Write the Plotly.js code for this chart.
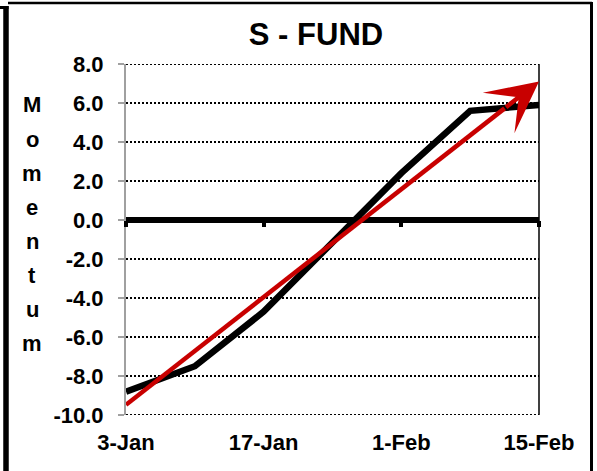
<!DOCTYPE html>
<html>
<head>
<meta charset="utf-8">
<script src="https://cdn.plot.ly/plotly-3.0.1.min.js"></script>
<style>
  html, body { margin: 0; padding: 0; background: #ffffff; }
  #chart { width: 597px; height: 471px; }
</style>
</head>
<body>
<div id="chart"></div>
<script>
// ---- data ----
const weekIndex = [0, 1, 2, 3, 4, 5, 6];
const momentum = [-8.8, -7.5, -4.7, -1.2, 2.4, 5.6, 5.9];
const tickPositions = [0, 2, 4, 6];
const tickLabels = ['3-Jan', '17-Jan', '1-Feb', '15-Feb'];
const yTicks = [-10, -8, -6, -4, -2, 0, 2, 4, 6, 8];
const titleLetters = ['M', 'o', 'm', 'e', 'n', 't', 'u', 'm'];

// ---- linear trend (least squares) of the momentum series ----
const n = weekIndex.length;
const mx = weekIndex.reduce((a, b) => a + b, 0) / n;
const my = momentum.reduce((a, b) => a + b, 0) / n;
let sxy = 0, sxx = 0;
for (let i = 0; i < n; i++) {
  sxy += (weekIndex[i] - mx) * (momentum[i] - my);
  sxx += (weekIndex[i] - mx) * (weekIndex[i] - mx);
}
const slope = sxy / sxx;
const intercept = my - slope * mx;
const trend = x => intercept + slope * x;
const xStart = weekIndex[0];
const xEnd = weekIndex[n - 1];
const xHeadBase = xEnd - 0.5;
const yMin = yTicks[0], yMax = yTicks[yTicks.length - 1];

// ---- geometry helpers (pixel -> paper) ----
const W = 597, H = 471;
const M = { l: 126, r: 58, t: 64, b: 56 };
const PW = W - M.l - M.r, PH = H - M.t - M.b;
const px = x => (x - M.l) / PW;
const py = y => (H - M.b - y) / PH;

const FONT = 'Liberation Sans, Arial, sans-serif';
const RED = '#c80000';

const traces = [
  {
    x: weekIndex, y: momentum, type: 'scatter', mode: 'lines',
    line: { color: '#000000', width: 6.5 }, hoverinfo: 'skip', showlegend: false
  },
  {
    x: [xStart, xHeadBase], y: [trend(xStart), trend(xHeadBase)],
    type: 'scatter', mode: 'lines',
    line: { color: RED, width: 4.5 }, hoverinfo: 'skip', showlegend: false
  },
  {
    // invisible trace to activate the tick axis at zero
    x: [xStart, xEnd], y: [0, 0], xaxis: 'x2', type: 'scatter', mode: 'lines',
    line: { width: 0 }, hoverinfo: 'skip', showlegend: false
  }
];

const annotations = [
  {
    x: xEnd, y: trend(xEnd), xref: 'x', yref: 'y',
    ax: xHeadBase, ay: trend(xHeadBase), axref: 'x', ayref: 'y',
    text: '', showarrow: true, arrowhead: 3, arrowsize: 1.9,
    arrowwidth: 4.5, arrowcolor: RED, standoff: 0
  }
];
titleLetters.forEach((ch, i) => {
  annotations.push({
    text: ch, xref: 'paper', yref: 'paper',
    x: px(32), y: py(105 + 34 * i), xanchor: 'center', yanchor: 'middle',
    showarrow: false,
    font: { family: FONT, size: 22, color: '#000000', weight: 'bold' }
  });
});

const shapes = [
  // dotted gridlines at the range edges (Plotly omits them)
  { type: 'line', xref: 'paper', yref: 'y', x0: 0, x1: 1, y0: yMax, y1: yMax, layer: 'below',
    line: { color: '#000000', width: 2, dash: '2px,2px' } },
  { type: 'line', xref: 'paper', yref: 'y', x0: 0, x1: 1, y0: yMin, y1: yMin, layer: 'below',
    line: { color: '#000000', width: 2, dash: '2px,2px' } },
  // right border of the plot area
  { type: 'line', xref: 'paper', yref: 'paper', x0: 1, x1: 1, y0: 0, y1: 1,
    line: { color: '#000000', width: 1.5 } },
  // outer frame
  { type: 'line', xref: 'paper', yref: 'paper', x0: px(8), x1: px(592), y0: py(3), y1: py(3),
    line: { color: '#000000', width: 2.5 } },
  { type: 'line', xref: 'paper', yref: 'paper', x0: px(591.5), x1: px(591.5), y0: py(2), y1: py(475),
    line: { color: '#000000', width: 3 } },
  { type: 'line', xref: 'paper', yref: 'paper', x0: px(6), x1: px(6), y0: py(6), y1: py(475),
    line: { color: '#000000', width: 5.5 } },
  { type: 'line', xref: 'paper', yref: 'paper', x0: px(-1), x1: px(8.5), y0: py(7.5), y1: py(7.5),
    line: { color: '#000000', width: 3 } }
];

const layout = {
  width: W, height: H,
  margin: M,
  paper_bgcolor: '#ffffff', plot_bgcolor: '#ffffff',
  showlegend: false,
  title: {
    text: 'S - FUND', xref: 'container', yref: 'container',
    x: 316 / W, y: 1 - 34 / H, xanchor: 'center', yanchor: 'middle',
    font: { family: FONT, size: 31, color: '#000000', weight: 'bold' }
  },
  xaxis: {
    range: [xStart, xEnd], tickmode: 'array', tickvals: tickPositions, ticktext: tickLabels,
    showgrid: false, zeroline: false, showline: false, ticks: '',
    ticklabelstandoff: 12,
    tickfont: { family: FONT, size: 22, color: '#000000', weight: 'bold' },
    fixedrange: true
  },
  xaxis2: {
    overlaying: 'x', anchor: 'free', position: (0 - yMin) / (yMax - yMin), side: 'bottom',
    range: [xStart, xEnd], tickmode: 'array', tickvals: tickPositions,
    ticks: 'outside', ticklen: 6, tickwidth: 4, tickcolor: '#000000',
    showticklabels: false, showgrid: false, zeroline: false, showline: false,
    fixedrange: true
  },
  yaxis: {
    range: [yMin, yMax], tickmode: 'array', tickvals: yTicks,
    ticktext: yTicks.map(v => v.toFixed(1)),
    showgrid: true, gridcolor: '#000000', gridwidth: 2, griddash: '2px,2px',
    zeroline: true, zerolinecolor: '#000000', zerolinewidth: 6,
    showline: true, linecolor: '#a0a0a0', linewidth: 2,
    ticks: 'outside', ticklen: 6, tickwidth: 2, tickcolor: '#a0a0a0',
    ticklabelstandoff: 10,
    tickfont: { family: FONT, size: 22, color: '#000000', weight: 'bold' },
    fixedrange: true
  },
  shapes: shapes,
  annotations: annotations
};

Plotly.newPlot('chart', traces, layout, { displayModeBar: false, staticPlot: true });
</script>
</body>
</html>
